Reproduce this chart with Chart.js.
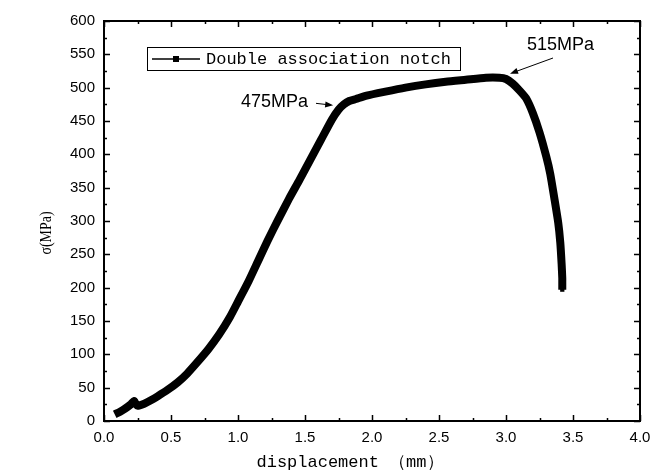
<!DOCTYPE html>
<html>
<head>
<meta charset="utf-8">
<script src="https://cdn.jsdelivr.net/npm/chart.js@4.4.0/dist/chart.umd.min.js"></script>
<style>
  html, body { margin: 0; padding: 0; background: #fff; }
  #wrap { width: 651px; height: 476px; }
</style>
</head>
<body>
<div id="wrap"><canvas id="stressChart" width="651" height="476"></canvas></div>
<script>
// tensile curve of the double association notch specimen
const dispMm = [0.08, 0.12, 0.16, 0.20, 0.225, 0.235, 0.25, 0.30, 0.35, 0.40, 0.47, 0.55, 0.62, 0.70, 0.78, 0.86, 0.94, 1.00,
  1.08, 1.15, 1.22, 1.30, 1.38, 1.46, 1.54, 1.62, 1.70, 1.75, 1.79, 1.83, 1.88, 1.96, 2.10, 2.25, 2.40, 2.55, 2.70, 2.85,
  2.95, 3.00, 3.05, 3.10, 3.15, 3.20, 3.25, 3.30, 3.33, 3.36, 3.39, 3.405, 3.415, 3.42, 3.42, 3.42];
const stressMPa = [10, 14, 19, 25, 30, 26, 23, 26, 31, 37, 46, 58, 71, 89, 108, 130, 156, 179,
  210, 240, 270, 302, 333, 362, 392, 422, 452, 467, 475, 480, 483, 488, 494, 500, 505, 509, 512, 515,
  515, 513, 506, 496, 484, 462, 433, 397, 371, 335, 297, 268, 236, 214, 208, 197];
const xTicks = [0, 0.5, 1.0, 1.5, 2.0, 2.5, 3.0, 3.5, 4.0];
const yTicks = [0, 50, 100, 150, 200, 250, 300, 350, 400, 450, 500, 550, 600];
const seriesName = 'Double association notch';
const callouts = [
  { text: '475MPa', x: 1.74, y: 475 },
  { text: '515MPa', x: 3.03, y: 515 }
];

const curvePoints = dispMm.map((d, i) => ({ x: d, y: stressMPa[i] }));
// only the tail shows the square markers, the rest is packed into a thick line
const markerSizes = curvePoints.map((p, i) => i >= curvePoints.length - 3 ? 3 : 0);

const frameAndNotes = {
  id: 'frameAndNotes',
  afterDraw(chart) {
    const { ctx, chartArea: { left, right, top, bottom }, scales: { x, y } } = chart;
    ctx.save();
    ctx.strokeStyle = '#000';
    ctx.lineWidth = 2;
    ctx.strokeRect(left, top, right - left, bottom - top);

    // inward ticks on all four sides
    ctx.lineWidth = 1.5;
    ctx.beginPath();
    for (let v = 0; v <= 4.0001; v += 0.25) {
      const px = Math.round(x.getPixelForValue(v)) + 0.5;
      const len = Math.abs(v / 0.5 - Math.round(v / 0.5)) < 1e-6 ? 6 : 3;
      ctx.moveTo(px, bottom); ctx.lineTo(px, bottom - len);
      ctx.moveTo(px, top); ctx.lineTo(px, top + len);
    }
    for (let v = 0; v <= 600; v += 25) {
      const py = Math.round(y.getPixelForValue(v)) + 0.5;
      const len = v % 50 === 0 ? 6 : 3;
      ctx.moveTo(left, py); ctx.lineTo(left + len, py);
      ctx.moveTo(right, py); ctx.lineTo(right - len, py);
    }
    ctx.stroke();

    // axis titles
    ctx.fillStyle = '#000';
    ctx.font = '17px "Liberation Mono", monospace';
    ctx.textAlign = 'center'; ctx.textBaseline = 'middle';
    ctx.fillText('displacement （mm）', 350, 462);
    ctx.save();
    ctx.translate(47, 233);
    ctx.rotate(-Math.PI / 2);
    ctx.scale(0.82, 1);  // narrow serif look
    ctx.font = '17px "Liberation Serif", serif';
    ctx.fillText('σ(MPa)', 0, 0);
    ctx.restore();

    // legend box
    ctx.lineWidth = 1;
    ctx.strokeStyle = '#000';
    ctx.strokeRect(147.5, 47.5, 313, 23);
    ctx.lineWidth = 1.5;
    ctx.beginPath(); ctx.moveTo(152, 59); ctx.lineTo(200, 59); ctx.stroke();
    ctx.fillRect(173, 56, 6, 6);
    ctx.font = '17px "Liberation Mono", monospace';
    ctx.textAlign = 'left';
    ctx.fillText(seriesName, 206, 59);

    // value callouts with arrows
    ctx.font = '18px "Liberation Sans", Arial, sans-serif';
    const drawArrow = (x0, y0, x1, y1) => {
      const ang = Math.atan2(y1 - y0, x1 - x0);
      ctx.lineWidth = 1;
      ctx.beginPath(); ctx.moveTo(x0, y0); ctx.lineTo(x1 - 6 * Math.cos(ang), y1 - 6 * Math.sin(ang)); ctx.stroke();
      ctx.beginPath();
      ctx.moveTo(x1, y1);
      ctx.lineTo(x1 - 8 * Math.cos(ang) + 3 * Math.sin(ang), y1 - 8 * Math.sin(ang) - 3 * Math.cos(ang));
      ctx.lineTo(x1 - 8 * Math.cos(ang) - 3 * Math.sin(ang), y1 - 8 * Math.sin(ang) + 3 * Math.cos(ang));
      ctx.closePath(); ctx.fill();
    };
    const knee = callouts[0], peak = callouts[1];
    const kx = x.getPixelForValue(knee.x) - 4, ky = y.getPixelForValue(knee.y) + 1;
    ctx.textAlign = 'right';
    ctx.fillText(knee.text, 308, ky - 3);
    drawArrow(316, ky - 2, kx, ky);
    const qx = x.getPixelForValue(peak.x), qy = y.getPixelForValue(peak.y) - 4;
    ctx.textAlign = 'left';
    ctx.fillText(peak.text, 527, 45);
    drawArrow(553, 58, qx, qy);
    ctx.restore();
  }
};

new Chart(document.getElementById('stressChart'), {
  type: 'line',
  data: {
    datasets: [{
      label: seriesName,
      data: curvePoints,
      borderColor: '#000',
      backgroundColor: '#000',
      borderWidth: 8,
      tension: 0.2,
      pointStyle: 'rect',
      pointRadius: markerSizes,
      pointBorderWidth: 0,
      pointBackgroundColor: '#000'
    }]
  },
  options: {
    responsive: false,
    animation: false,
    layout: { padding: { left: 0, top: 21, right: 11, bottom: 0 } },
    plugins: { legend: { display: false }, tooltip: { enabled: false } },
    scales: {
      x: {
        type: 'linear', min: 0, max: 4,
        afterFit: s => { s.height = 55; s.paddingLeft = 0; s.paddingRight = 0; },
        afterBuildTicks: s => { s.ticks = xTicks.map(v => ({ value: v })); },
        grid: { display: false, drawTicks: false },
        border: { display: false },
        ticks: {
          padding: 8, color: '#000', maxRotation: 0,
          font: { family: '"Liberation Sans", Arial, sans-serif', size: 15 },
          callback: v => Number(v).toFixed(1)
        }
      },
      y: {
        min: 0, max: 600,
        afterFit: s => { s.width = 104; s.paddingTop = 0; s.paddingBottom = 0; },
        afterBuildTicks: s => { s.ticks = yTicks.map(v => ({ value: v })); },
        grid: { display: false, drawTicks: false },
        border: { display: false },
        ticks: {
          padding: 9, color: '#000',
          font: { family: '"Liberation Sans", Arial, sans-serif', size: 15 }
        }
      }
    }
  },
  plugins: [frameAndNotes]
});
</script>
</body>
</html>
